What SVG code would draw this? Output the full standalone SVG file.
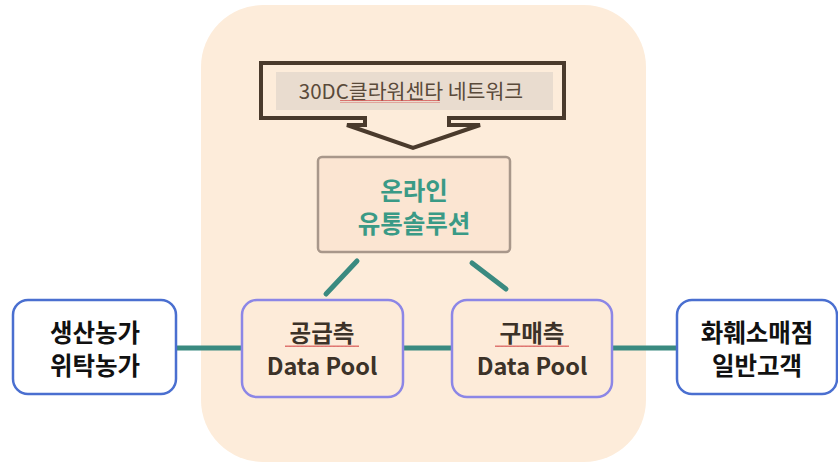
<svg xmlns="http://www.w3.org/2000/svg" width="838" height="465" viewBox="0 0 838 465">
  <defs>
    <style>
      .ko { font-family: "Noto Sans CJK KR", "Noto Sans", sans-serif; text-anchor: middle; dominant-baseline: central; }
      .end { fill: #ffffff; stroke: #4a6fd0; stroke-width: 2.5; }
      .pool { fill: #fdebd9; stroke: #8c86e6; stroke-width: 2.5; }
      .endtxt { font-size: 24.5px; font-weight: 700; fill: #111111; }
      .pooltxt { font-size: 23.5px; font-weight: 700; fill: #3c3228; }
      .link { stroke: #3a8a80; stroke-width: 5; stroke-linecap: round; fill: none; }
    </style>
    <pattern id="wave" width="4" height="3" patternUnits="userSpaceOnUse">
      <path d="M0 2 L1 0.5 L2 2 L3 0.5 L4 2" stroke="#d04040" stroke-width="0.8" fill="none"/>
    </pattern>
  </defs>

  <rect x="0" y="0" width="838" height="465" fill="#ffffff"/>

  <!-- platform backdrop -->
  <rect x="201" y="5" width="445" height="457" rx="62" ry="62" fill="#fdecda"/>

  <!-- connectors -->
  <g id="connectors">
    <line class="link" x1="357" y1="261" x2="326" y2="294"/>
    <line class="link" x1="472" y1="263" x2="506" y2="289"/>
    <line class="link" x1="177" y1="348" x2="242" y2="348" stroke-linecap="butt"/>
    <line class="link" x1="403" y1="348" x2="452" y2="348" stroke-linecap="butt"/>
    <line class="link" x1="612" y1="348" x2="678" y2="348" stroke-linecap="butt"/>
  </g>

  <!-- data center network callout -->
  <g id="network">
    <path d="M261 63 H564 V118 H449 V125 H480 L413 148 L347 125 H365 V118 H261 Z" fill="#fdecda" stroke="#4a3a2c" stroke-width="4" stroke-linejoin="miter"/>
    <rect x="276" y="72" width="277" height="38" fill="#e9dccf"/>
    <text class="ko" x="411" y="90" font-size="20.5" fill="#5a4a3a">30DC클라워센타 네트워크</text>
    <rect x="340" y="100" width="100" height="3" fill="url(#wave)"/>
  </g>

  <!-- online distribution solution -->
  <g id="solution">
    <rect x="318" y="157" width="192" height="95" rx="4" fill="#fbe5d2" stroke="#a8978a" stroke-width="2.5"/>
    <text class="ko" x="414" y="189" font-size="24.5" font-weight="700" fill="#3a9a86">온라인</text>
    <text class="ko" x="414" y="222" font-size="24.5" font-weight="700" fill="#3a9a86">유통솔루션</text>
  </g>

  <!-- producers -->
  <g id="producers">
    <rect class="end" x="13" y="300" width="163" height="94" rx="15"/>
    <text class="ko endtxt" x="95" y="331">생산농가</text>
    <text class="ko endtxt" x="95" y="364">위탁농가</text>
  </g>

  <!-- supply data pool -->
  <g id="supply-pool">
    <rect class="pool" x="242" y="300" width="161" height="97" rx="15"/>
    <text class="ko pooltxt" x="322" y="332">공급측</text>
    <rect x="285" y="344" width="74" height="3" fill="url(#wave)"/>
    <text class="ko pooltxt" x="322" y="365">Data Pool</text>
  </g>

  <!-- purchase data pool -->
  <g id="purchase-pool">
    <rect class="pool" x="452" y="300" width="160" height="97" rx="15"/>
    <text class="ko pooltxt" x="532" y="332">구매측</text>
    <rect x="495" y="344" width="74" height="3" fill="url(#wave)"/>
    <text class="ko pooltxt" x="532" y="365">Data Pool</text>
  </g>

  <!-- buyers -->
  <g id="buyers">
    <rect class="end" x="677" y="300" width="160" height="94" rx="15"/>
    <text class="ko endtxt" x="757" y="331">화훼소매점</text>
    <text class="ko endtxt" x="757" y="364">일반고객</text>
  </g>
</svg>
